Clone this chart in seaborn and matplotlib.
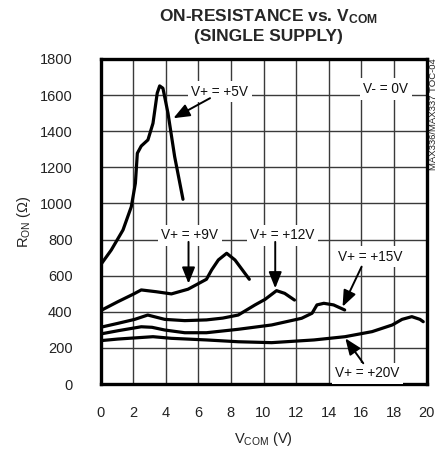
import matplotlib
matplotlib.use("Agg")
import matplotlib.pyplot as plt
import seaborn as sns
import pandas as pd
from matplotlib import font_manager as fm

# ---- data ----
x_5v = [0, 0.66, 1.38, 1.89, 2.14, 2.26, 2.5, 2.91, 3.22, 3.48, 3.63, 3.83, 4.14, 4.55, 5.06]
y_5v = [659, 742, 853, 982, 1112, 1278, 1318, 1352, 1444, 1611, 1651, 1638, 1500, 1259, 1023]

x_9v = [0, 1.07, 2.0, 2.5, 3.42, 4.35, 5.37, 6.5, 6.82, 7.23, 7.74, 8.25, 9.13]
y_9v = [406, 456, 497, 521, 511, 499, 525, 580, 632, 687, 724, 687, 580]

x_12v = [0, 1.07, 2.1, 2.9, 3.94, 5.17, 6.5, 7.5, 8.45, 9.48, 10.1, 10.8, 11.3, 11.9]
y_12v = [314, 336, 358, 382, 358, 351, 355, 365, 382, 438, 469, 517, 502, 465]

x_15v = [0, 1.07, 2.5, 3.16, 3.94, 5.17, 6.5, 8.45, 10.5, 12.34, 12.98, 13.28, 13.7, 14.3, 14.98]
y_15v = [277, 295, 317, 314, 299, 284, 284, 303, 327, 364, 392, 438, 447, 438, 410]

x_20v = [0, 1.07, 3.22, 4.35, 6.5, 8.45, 10.5, 13.1, 15.0, 16.66, 17.9, 18.5, 19.1, 19.6, 19.8]
y_20v = [240, 249, 262, 253, 244, 234, 229, 244, 262, 290, 327, 358, 373, 358, 345]

x_ticks = [0, 2, 4, 6, 8, 10, 12, 14, 16, 18, 20]
y_ticks = [0, 200, 400, 600, 800, 1000, 1200, 1400, 1600, 1800]

# labels: text, text position, arrow tail, arrow head
labels = [
    ("V+ = +5V", (7.33, 1619), (6.72, 1583), (4.47, 1472)),
    ("V- = 0V", (17.5, 1634), None, None),
    ("V+ = +9V", (5.49, 825), (5.40, 787), (5.40, 556)),
    ("V+ = +12V", (11.17, 825), (10.72, 787), (10.72, 530)),
    ("V+ = +15V", (16.55, 705), (16.02, 650), (14.85, 428)),
    ("V+ = +20V", (16.38, 59), (16.12, 115), (15.02, 253)),
]

series = [("+5V", x_5v, y_5v), ("+9V", x_9v, y_9v), ("+12V", x_12v, y_12v),
          ("+15V", x_15v, y_15v), ("+20V", x_20v, y_20v)]

# ---- style ----
sns.set_theme(style="white")
names = {f.name for f in fm.fontManager.ttflist}
NARROW = "Liberation Sans Narrow" if "Liberation Sans Narrow" in names else "Liberation Sans"
plt.rcParams["font.family"] = [NARROW, "DejaVu Sans"]

fig = plt.figure(figsize=(4.48, 4.54), dpi=100)
ax = fig.add_axes([100.5 / 448, 70 / 454, 326 / 448, 325 / 454])

frames = []
for name, xs, ys in series:
    frames.append(pd.DataFrame({"vcom": xs, "ron": ys, "supply": name}))
df = pd.concat(frames, ignore_index=True)

sns.lineplot(data=df, x="vcom", y="ron", hue="supply", units="supply",
             estimator=None, sort=False, palette=["black"] * len(series),
             linewidth=2.3, legend=False, ax=ax, zorder=3)

ax.set_xlim(0, 20)
ax.set_ylim(0, 1800)
ax.set_xticks(x_ticks)
ax.set_yticks(y_ticks)
ax.set_xticklabels([str(v) for v in x_ticks])
ax.set_yticklabels([str(v) for v in y_ticks])
ax.tick_params(axis="both", length=0, labelsize=10.5, colors="#222222")
ax.tick_params(axis="x", pad=16)
ax.tick_params(axis="y", pad=20)
ax.grid(True, color="#3a3a3a", linewidth=1.0)
ax.set_axisbelow(True)
for sp in ax.spines.values():
    sp.set_visible(True)
    sp.set_color("black")
    sp.set_linewidth(2.4)
    sp.set_zorder(5)

ax.set_xlabel(r"$\mathregular{V_{COM}}$ (V)", fontsize=10.5, color="#222222")
ax.set_ylabel(r"$\mathregular{R_{ON}}$ ($\mathregular{\Omega}$)", fontsize=10.5,
              color="#222222")
ax.xaxis.set_label_coords(0.5, -0.14)
ax.yaxis.set_label_coords(-0.207, 0.5)

for text, tpos, tail, head in labels:
    ax.text(tpos[0], tpos[1], text, fontsize=9.8, ha="center", va="center",
            color="#111111", zorder=6,
            bbox=dict(facecolor="white", edgecolor="none", pad=2.5))
    if tail is not None:
        ax.annotate("", xy=head, xytext=tail,
                    arrowprops=dict(arrowstyle="-|>,head_length=0.7,head_width=0.28",
                                    color="black", lw=1.4, mutation_scale=14,
                                    shrinkA=0, shrinkB=0), zorder=6)

fig.text(268 / 448, 1 - 17 / 454, r"ON-RESISTANCE vs. $\mathregular{V_{COM}}$",
         ha="center", va="center", fontsize=12.5, fontweight="bold")
fig.text(268 / 448, 1 - 37 / 454, "(SINGLE SUPPLY)",
         ha="center", va="center", fontsize=12.5, fontweight="bold")
fig.text(433 / 448, 1 - 58 / 454, "MAX336/MAX337 TOC-04", rotation=90,
         ha="center", va="top", fontsize=6.8, color="#222222")

fig.savefig("out.png", dpi=100, facecolor="white")
